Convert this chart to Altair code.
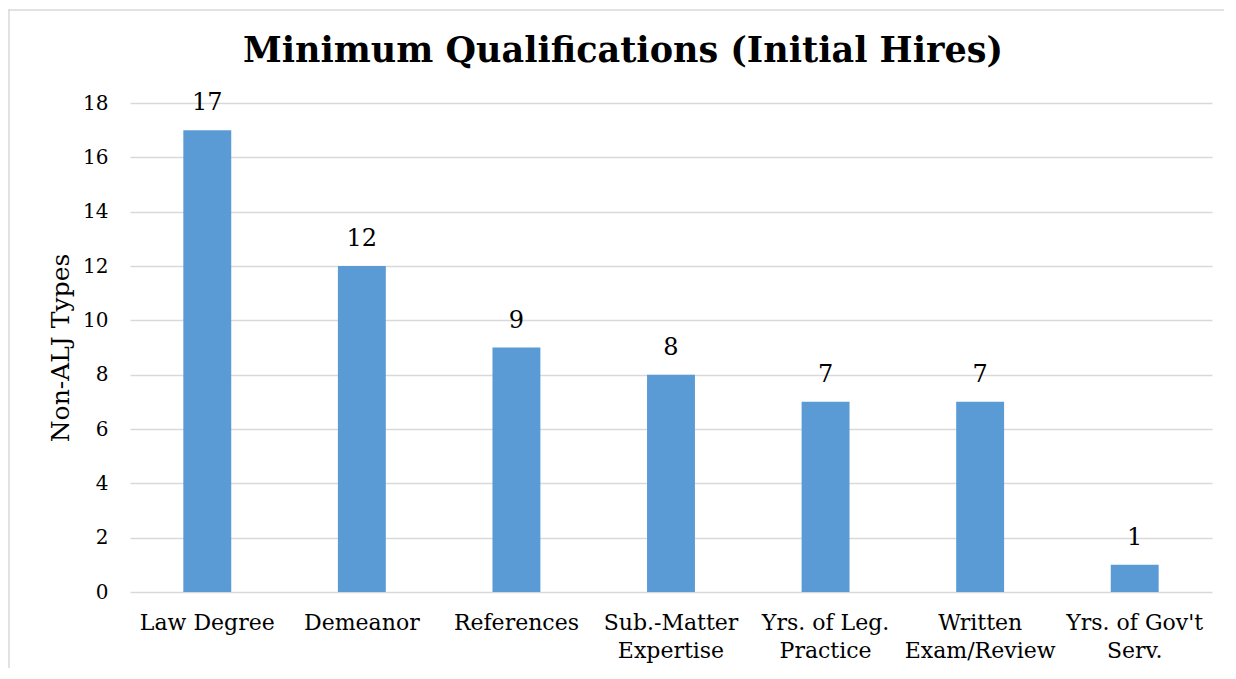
import altair as alt
import pandas as pd

categories = ["Law Degree", "Demeanor", "References", "Sub.-Matter|Expertise",
              "Yrs. of Leg.|Practice", "Written|Exam/Review", "Yrs. of Gov't|Serv."]
values = [17, 12, 9, 8, 7, 7, 1]
y_ticks = [0, 2, 4, 6, 8, 10, 12, 14, 16, 18]
title_text = ["Minimum Qualifications (Initial Hires)"]

df = pd.DataFrame({"cat": categories, "val": values})
FONT = "DejaVu Serif"
W, H = 1082, 489

x_enc = alt.X("cat:N", sort=categories, title=None,
              scale=alt.Scale(paddingInner=0.69, paddingOuter=0.345),
              axis=alt.Axis(labelExpr="split(datum.label, '|')", labelAngle=0,
                            labelFontSize=22, labelFont=FONT, labelColor="#000000",
                            labelPadding=20, labelLineHeight=28, ticks=False,
                            domain=False, grid=False, labelBaseline="top"))
y_enc = alt.Y("val:Q", title="Non-ALJ Types",
              scale=alt.Scale(domain=[0, 18], nice=False),
              axis=alt.Axis(values=y_ticks, labelFontSize=20, labelFont=FONT,
                            labelColor="#000000", labelPadding=22, ticks=False,
                            domain=False, gridColor="#d9d9d9", gridWidth=1.5,
                            titleFont=FONT, titleFontSize=25, titleFontWeight="normal",
                            titleColor="#000000", titleAngle=-90, titleX=-70,
                            titleY=H / 2, titleAlign="center", titleBaseline="middle"))

bars = alt.Chart(df).mark_bar(color="#5B9BD5").encode(x=x_enc, y=y_enc)
labels = alt.Chart(df).mark_text(font=FONT, fontSize=24, color="#000000",
                                 baseline="middle", dy=-27).encode(
    x=alt.X("cat:N", sort=categories), y="val:Q", text="val:Q")

one = pd.DataFrame({"t": title_text})
top_line = alt.Chart(one).mark_rule(color="#d9d9d9", strokeWidth=1.5).encode(
    x=alt.value(-122), x2=alt.value(W + 12), y=alt.value(-93))
left_line = alt.Chart(one).mark_rule(color="#d9d9d9", strokeWidth=1.5).encode(
    x=alt.value(-121), y=alt.value(-93), y2=alt.value(H + 76))
title = alt.Chart(one).mark_text(font=FONT, fontSize=35, fontWeight="bold",
                                 color="#000000", baseline="middle", align="center").encode(
    x=alt.value(493), y=alt.value(-52), text="t:N")

chart = alt.layer(top_line, left_line, bars, labels, title).properties(
    width=W, height=H,
    autosize=alt.AutoSizeParams(type="none"),
    padding={"left": 122, "top": 95, "right": 16, "bottom": 79},
).configure(background="#ffffff").configure_view(stroke=None)

chart.save("out.html", embed_options={"renderer": "svg", "actions": False})
